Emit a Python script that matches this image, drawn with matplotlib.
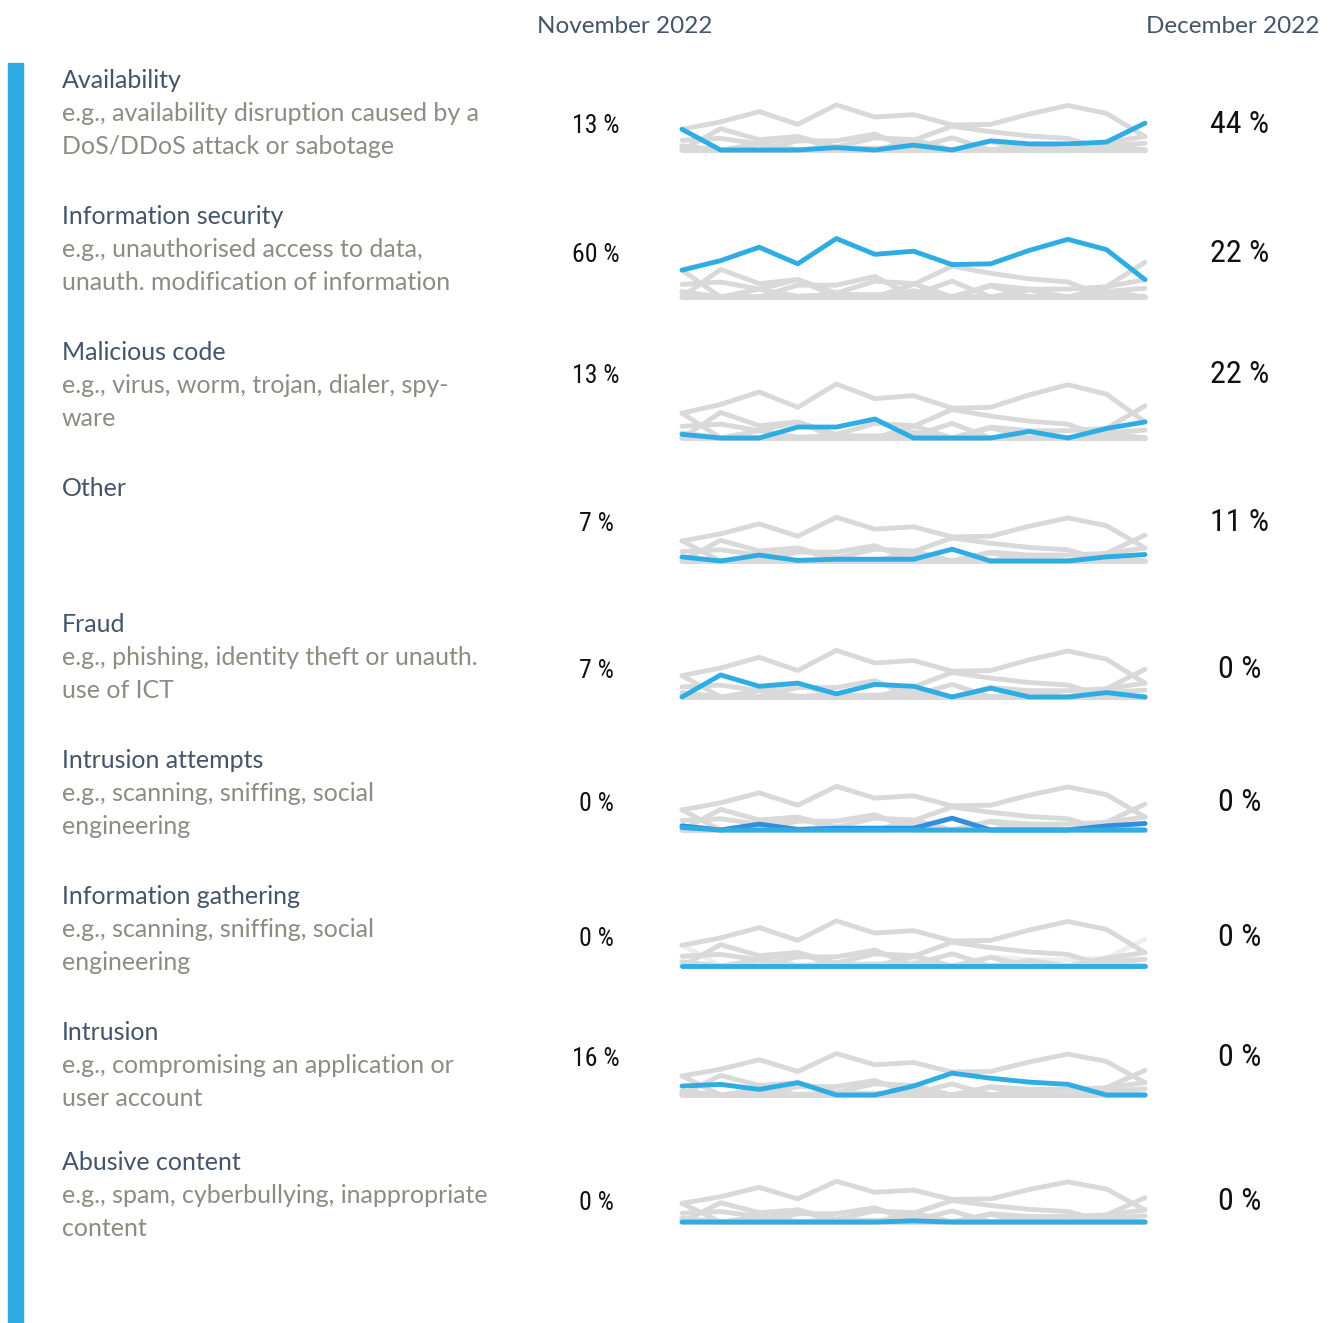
import numpy as np
import matplotlib.pyplot as plt
from matplotlib import font_manager

W, H = 1336, 1323

# monthly share of incidents (%), 13 months ending December 2022
info_sec = [34, 46, 63, 42, 74, 54, 58, 41, 42, 59, 73, 60, 22]
availability = [34, 0, 0, 0, 4, 0, 8, 0, 15, 10, 10, 13, 44]
malicious = [5, 0, 0, 15, 15, 26, 0, 0, 0, 9, 0, 13, 22]
other = [7, 0, 10, 1, 3, 3, 3, 20, 0, 0, 0, 7, 11]
fraud = [0, 35, 17, 22, 5, 20, 17, 0, 14, 0, 0, 7, 0]
attempts = [4, 0, 0, 0, 0, 0, 0, 0, 0, 0, 0, 0, 0]
gathering = [0, 0, 0, 0, 0, 0, 0, 0, 0, 0, 0, 0, 0]
intrusion = [16, 19, 10, 22, 0, 0, 16, 39, 30, 23, 19, 0, 0]
abusive = [0, 0, 0, 0, 0, 0, 2, 0, 0, 0, 0, 0, 0]

titles = ["Availability", "Information security", "Malicious code", "Other", "Fraud",
          "Intrusion attempts", "Information gathering", "Intrusion", "Abusive content"]
descriptions = [
    ["e.g., availability disruption caused by a", "DoS/DDoS attack or sabotage"],
    ["e.g., unauthorised access to data,", "unauth. modification of information"],
    ["e.g., virus, worm, trojan, dialer, spy-", "ware"],
    [],
    ["e.g., phishing, identity theft or unauth.", "use of ICT"],
    ["e.g., scanning, sniffing, social", "engineering"],
    ["e.g., scanning, sniffing, social", "engineering"],
    ["e.g., compromising an application or", "user account"],
    ["e.g., spam, cyberbullying, inappropriate", "content"],
]
nov_labels = ["13 %", "60 %", "13 %", "7 %", "7 %", "0 %", "0 %", "16 %", "0 %"]
dec_labels = ["44 %", "22 %", "22 %", "11 %", "0 %", "0 %", "0 %", "0 %", "0 %"]

series = [availability, info_sec, malicious, other, fraud, attempts, gathering, intrusion, abusive]

# layout (pixels)
title_y = [88, 224, 360, 496, 632, 768, 904, 1040, 1170]
num_y = [133, 262, 383, 531, 678, 811, 946, 1066, 1210]
base_y = [150, 297, 438, 561, 697, 830, 966, 1095, 1222]
px_per_pct = [0.61, 0.79, 0.73, 0.59, 0.63, 0.59, 0.61, 0.56, 0.55]

BLUE = "#2eade4"
DARK_BLUE = "#2f8ee0"
GREY = "#d9d9d9"
TITLE_C = "#44546a"
DESC_C = "#8c8c82"

installed = {f.name for f in font_manager.fontManager.ttflist}


def pick(cands):
    found = [c for c in cands if c in installed]
    return found[:1] + ["DejaVu Sans"]


TEXT_FONT = pick(["Lato", "Open Sans"])
NUM_FONT = pick(["Roboto Condensed", "Liberation Sans Narrow", "Lato"])

fig = plt.figure(figsize=(W / 100, H / 100), dpi=100)


def fx(x):
    return x / W


def fy(y):
    return 1 - y / H


# left accent bar
fig.patches.append(plt.Rectangle((fx(8), 0), fx(15), fy(63), transform=fig.transFigure,
                                 color=BLUE, zorder=0))

fig.text(fx(625), fy(33), "November 2022", ha="center", va="baseline", fontsize=17.5,
         color=TITLE_C, family=TEXT_FONT)
fig.text(fx(1233), fy(33), "December 2022", ha="center", va="baseline", fontsize=17.5,
         color=TITLE_C, family=TEXT_FONT)

x = np.arange(13)
for i in range(9):
    fig.text(fx(62), fy(title_y[i]), titles[i], ha="left", va="baseline", fontsize=18,
             color=TITLE_C, family=TEXT_FONT)
    for j, line in enumerate(descriptions[i]):
        fig.text(fx(62), fy(title_y[i] + 33 + 32.5 * j), line, ha="left", va="baseline",
                 fontsize=18, color=DESC_C, family=TEXT_FONT)
    fig.text(fx(596), fy(num_y[i]), nov_labels[i], ha="center", va="baseline",
             fontsize=18.5, color="#111111", family=NUM_FONT)
    fig.text(fx(1240), fy(num_y[i]), dec_labels[i], ha="center", va="baseline",
             fontsize=23, color="#111111", family=NUM_FONT)

    # sparkline axes
    h = 80 * px_per_pct[i]
    ax = fig.add_axes([fx(682), fy(base_y[i]), fx(1145 - 682), h / H])
    ax.set_xlim(0, 12)
    ax.set_ylim(0, 80)
    ax.axis("off")
    for k, s in enumerate(series):
        if k == i:
            continue
        c = GREY
        if i == 6 and k == 0:
            c = "#eeeeee"
        ax.plot(x, s, color=c, lw=3.5, solid_capstyle="round", clip_on=False, zorder=1)
    if i == 5:
        ax.plot(x, other, color=DARK_BLUE, lw=3.5, solid_capstyle="round", clip_on=False, zorder=2)
    ax.plot(x, series[i], color=BLUE, lw=3.5, solid_capstyle="round", clip_on=False, zorder=3)

fig.savefig("out.png", dpi=100)
